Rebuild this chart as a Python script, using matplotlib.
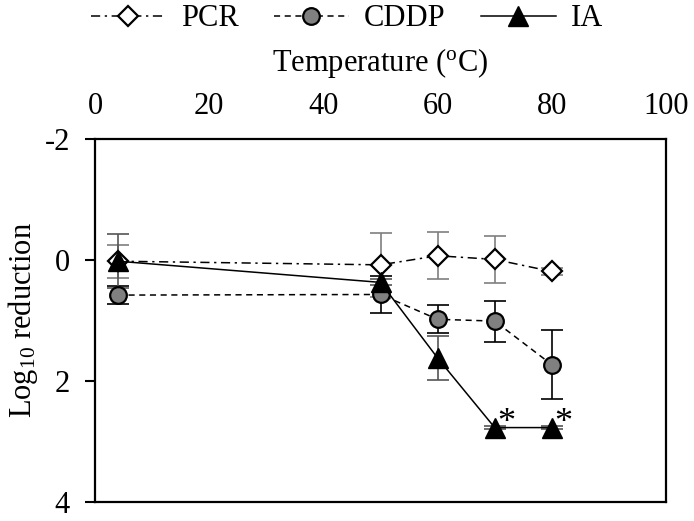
import matplotlib
matplotlib.use("Agg")
import matplotlib.pyplot as plt

plt.rcParams['font.family'] = ['Liberation Serif', 'DejaVu Serif']
plt.rcParams['mathtext.fontset'] = 'custom'
plt.rcParams['mathtext.rm'] = 'Liberation Serif'
plt.rcParams['mathtext.it'] = 'Liberation Serif:italic'
plt.rcParams['axes.unicode_minus'] = False

temps = [4, 50, 60, 70, 80]
pcr = [0.02, 0.08, -0.07, -0.01, 0.19]
pcr_err = [0.27, 0.53, 0.39, 0.39, 0.05]
cddp = [0.58, 0.57, 0.98, 1.01, 1.73]
cddp_err = [0.15, 0.31, 0.23, 0.34, 0.57]
ia = [0.02, 0.37, 1.62, 2.77, 2.77]
ia_err = [0.45, 0.05, 0.36, 0.03, 0.03]
star_temps = [70, 80]
star_vals = [2.77, 2.77]

fs = 22
fig = plt.figure(figsize=(6.94, 5.21), dpi=100)
ax = fig.add_axes([95/694, 1-502/521, (666-95)/694, (502-139)/521])

ax.errorbar(temps, pcr, yerr=pcr_err, fmt='none', ecolor='#7f7f7f', elinewidth=1.2, capsize=8, capthick=1.2, zorder=2)
ax.errorbar(temps, cddp, yerr=cddp_err, fmt='none', ecolor='black', elinewidth=1.2, capsize=8, capthick=1.2, zorder=2)
ax.errorbar(temps, ia, yerr=ia_err, fmt='none', ecolor='#555555', elinewidth=1.2, capsize=8, capthick=1.2, zorder=2)

l1, = ax.plot(temps, pcr, color='black', lw=1.1, linestyle=(0, (6, 3, 1.5, 3)),
              marker='D', markersize=10, markerfacecolor='white', markeredgecolor='black', markeredgewidth=1.6, zorder=3)
l2, = ax.plot(temps, cddp, color='black', lw=1.1, linestyle=(0, (4, 3)),
              marker='o', markersize=12, markerfacecolor='#808080', markeredgecolor='black', markeredgewidth=1.6, zorder=4)
l3, = ax.plot(temps, ia, color='black', lw=1.1, linestyle='-',
              marker='^', markersize=15, markerfacecolor='black', markeredgecolor='black', zorder=5)

for t, v in zip(star_temps, star_vals):
    ax.annotate('*', (t, v), xytext=(8, 3), textcoords='offset points', fontsize=26,
                ha='center', va='center', zorder=6)

ax.set_xlim(0, 100)
ax.set_ylim(4, -2)
ax.set_xticks([0, 20, 40, 60, 80, 100])
ax.set_yticks([-2, 0, 2, 4])
ax.xaxis.tick_top()
ax.xaxis.set_label_position('top')
ax.tick_params(axis='x', length=0, pad=13, labelsize=fs)
ax.tick_params(axis='y', length=7, width=1.5, direction='out', pad=11, labelsize=fs)
for s in ax.spines.values():
    s.set_linewidth(1.6)
ax.set_xlabel(r'Temperature ($^{\mathrm{o}}$C)', fontsize=fs, labelpad=15)
ax.set_ylabel(r'Log$_{10}$ reduction', fontsize=fs, labelpad=3)

fig.legend([l1, l2, l3], ['PCR', 'CDDP', 'IA'], loc='center', bbox_to_anchor=(0.5, 1-19/521),
           ncol=3, frameon=False, fontsize=fs, handlelength=2.45, columnspacing=1.15, handletextpad=0.5)

fig.savefig('out.png', dpi=100)
